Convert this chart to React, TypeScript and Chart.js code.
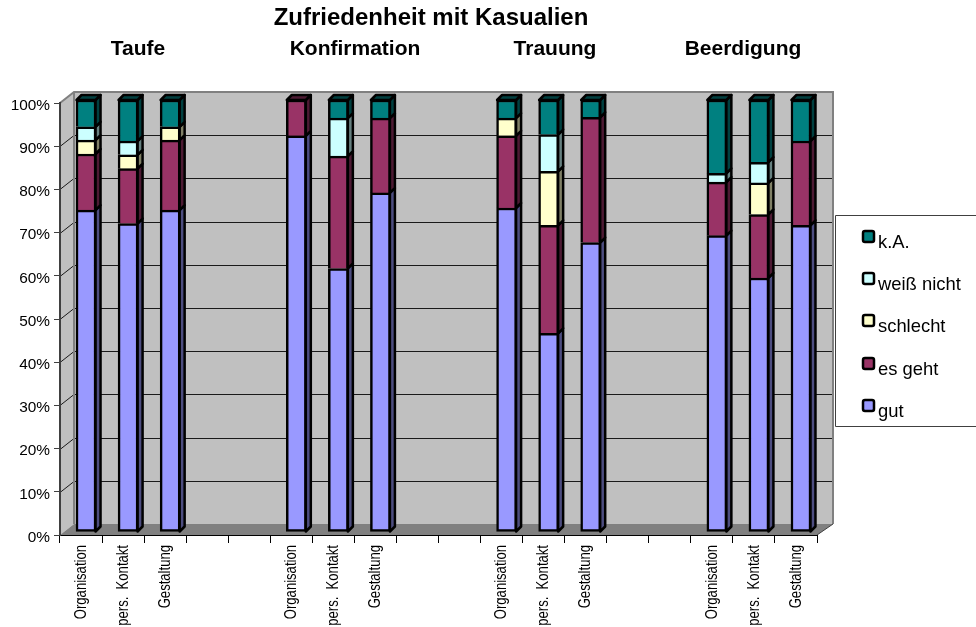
import React, { useEffect, useRef } from "react";
import { Chart, registerables } from "chart.js";

Chart.register(...registerables);

const chartTitle = "Zufriedenheit mit Kasualien";
const groupNames = ["Taufe", "Konfirmation", "Trauung", "Beerdigung"];
const groupCentres = [138, 355, 555, 743];
const categories = [
  "Organisation", "pers.  Kontakt", "Gestaltung", "", "",
  "Organisation", "pers.  Kontakt", "Gestaltung", "", "",
  "Organisation", "pers.  Kontakt", "Gestaltung", "", "",
  "Organisation", "pers.  Kontakt", "Gestaltung",
];
const gut = [74.5, 71.4, 74.5, 0, 0, 91.7, 61, 78.5, 0, 0, 75, 46, 67, 0, 0, 68.6, 58.8, 71];
const esGeht = [13, 12.7, 16.2, 0, 0, 8.3, 26, 17.3, 0, 0, 16.7, 25, 29, 0, 0, 12.4, 14.7, 19.5];
const schlecht = [3.2, 3.2, 3.1, 0, 0, 0, 0, 0, 0, 0, 4.1, 12.5, 0, 0, 0, 0, 7.3, 0];
const weissNicht = [3.1, 3.2, 0, 0, 0, 0, 8.8, 0, 0, 0, 0, 8.5, 0, 0, 0, 2, 4.8, 0];
const kA = [6.2, 9.5, 6.2, 0, 0, 0, 4.2, 4.2, 0, 0, 4.2, 8, 4, 0, 0, 17, 14.4, 9.5];

const seriesNames = ["gut", "es geht", "schlecht", "weiß nicht", "k.A."];
const seriesValues = [gut, esGeht, schlecht, weissNicht, kA];
const seriesColors = ["#9999FF", "#993366", "#FFFFCC", "#CCFFFF", "#008080"];
const sideColors = ["#4D4D80", "#4D1A33", "#808066", "#668080", "#004040"];

const FONT = '"Liberation Sans", Arial, sans-serif';
const WALL_DX = 14;
const WALL_DY = -11;
const BAR_DX = 5;
const BAR_DY = -3;
const BAR_DEPTH = 5;

const walls = {
  id: "walls",
  afterLayout(chart: any) {
    // the tick labels of the value axis need the whole left margin
    chart.scales.y.left = 0;
  },
  beforeDraw(chart: any) {
    const { ctx, chartArea: a, scales } = chart;
    const bl = a.left + WALL_DX;
    const br = a.right + WALL_DX + 2;
    ctx.save();
    ctx.fillStyle = "#C0C0C0";
    ctx.beginPath();
    ctx.moveTo(a.left, a.bottom);
    ctx.lineTo(a.left, a.top);
    ctx.lineTo(bl, a.top + WALL_DY);
    ctx.lineTo(br, a.top + WALL_DY);
    ctx.lineTo(br, a.bottom + WALL_DY);
    ctx.lineTo(bl, a.bottom + WALL_DY);
    ctx.closePath();
    ctx.fill();
    ctx.fillStyle = "#808080";
    ctx.beginPath();
    ctx.moveTo(a.left, a.bottom);
    ctx.lineTo(bl, a.bottom + WALL_DY);
    ctx.lineTo(br, a.bottom + WALL_DY);
    ctx.lineTo(a.right, a.bottom);
    ctx.closePath();
    ctx.fill();
    ctx.strokeStyle = "#1a1a1a";
    ctx.lineWidth = 1;
    for (const t of scales.y.ticks) {
      if (t.value === 0 || t.value === 100) continue;
      const y = Math.round(scales.y.getPixelForValue(t.value)) + 0.5;
      ctx.beginPath();
      ctx.moveTo(a.left, y);
      ctx.lineTo(bl, y + WALL_DY);
      ctx.lineTo(br - 1, y + WALL_DY);
      ctx.stroke();
    }
    ctx.strokeStyle = "#808080";
    ctx.lineWidth = 2;
    ctx.beginPath();
    ctx.moveTo(a.left, a.top);
    ctx.lineTo(bl, a.top + WALL_DY);
    ctx.lineTo(br, a.top + WALL_DY);
    ctx.lineTo(br, a.bottom + WALL_DY);
    ctx.moveTo(bl, a.top + WALL_DY);
    ctx.lineTo(bl, a.bottom + WALL_DY);
    ctx.stroke();
    ctx.strokeStyle = "#404040";
    ctx.lineWidth = 1;
    ctx.beginPath();
    ctx.moveTo(br, a.bottom + WALL_DY);
    ctx.lineTo(a.right, a.bottom);
    ctx.stroke();
    ctx.fillStyle = "#000";
    ctx.font = `bold 21px ${FONT}`;
    ctx.textAlign = "center";
    ctx.textBaseline = "alphabetic";
    groupNames.forEach((n, i) => ctx.fillText(n, groupCentres[i], 55));
    ctx.restore();
  },
};

const bars3d = {
  id: "bars3d",
  beforeDatasetsDraw(chart: any) {
    const { ctx } = chart;
    ctx.save();
    ctx.translate(BAR_DX, BAR_DY);
    ctx.strokeStyle = "#000";
    ctx.lineWidth = 2.5;
    ctx.lineJoin = "round";
    categories.forEach((_, c) => {
      let top: any = null;
      let topSeries = 0;
      seriesValues.forEach((vals, s) => {
        if (!vals[c]) return;
        const el = chart.getDatasetMeta(s).data[c];
        const right = el.x + el.width / 2 - 0.5;
        ctx.fillStyle = sideColors[s];
        ctx.beginPath();
        ctx.moveTo(right, el.base);
        ctx.lineTo(right + BAR_DEPTH, el.base - BAR_DEPTH);
        ctx.lineTo(right + BAR_DEPTH, el.y - BAR_DEPTH);
        ctx.lineTo(right, el.y);
        ctx.closePath();
        ctx.fill();
        ctx.stroke();
        top = el;
        topSeries = s;
      });
      if (top) {
        const l = top.x - top.width / 2 + 0.5;
        const r = top.x + top.width / 2 - 0.5;
        ctx.fillStyle = sideColors[topSeries];
        ctx.beginPath();
        ctx.moveTo(l, top.y);
        ctx.lineTo(l + BAR_DEPTH, top.y - BAR_DEPTH);
        ctx.lineTo(r + BAR_DEPTH, top.y - BAR_DEPTH);
        ctx.lineTo(r, top.y);
        ctx.closePath();
        ctx.fill();
        ctx.stroke();
      }
    });
  },
  afterDatasetsDraw(chart: any) {
    chart.ctx.restore();
  },
};

const squeezedLabels = {
  id: "squeezedLabels",
  afterDraw(chart: any) {
    const { ctx, scales } = chart;
    ctx.save();
    ctx.fillStyle = "#000";
    ctx.font = `17px ${FONT}`;
    ctx.textAlign = "right";
    ctx.textBaseline = "middle";
    categories.forEach((label, i) => {
      if (!label) return;
      ctx.save();
      ctx.translate(scales.x.getPixelForTick(i), 545);
      ctx.rotate(-Math.PI / 2);
      ctx.scale(0.77, 1);
      ctx.fillText(label, 0, 0);
      ctx.restore();
    });
    ctx.restore();
  },
};

const sideLegend = {
  id: "sideLegend",
  afterDraw(chart: any) {
    const { ctx } = chart;
    ctx.save();
    ctx.fillStyle = "#fff";
    ctx.fillRect(836, 215, 140, 211);
    ctx.strokeStyle = "#404040";
    ctx.lineWidth = 1;
    ctx.beginPath();
    ctx.moveTo(977, 215.5);
    ctx.lineTo(835.5, 215.5);
    ctx.lineTo(835.5, 426.5);
    ctx.lineTo(977, 426.5);
    ctx.stroke();
    ctx.font = `18.4px ${FONT}`;
    ctx.textAlign = "left";
    ctx.textBaseline = "alphabetic";
    const tops = [399, 357, 314, 272, 230];
    seriesNames.forEach((n, s) => {
      const y = tops[s];
      ctx.fillStyle = seriesColors[s];
      ctx.strokeStyle = "#000";
      ctx.lineWidth = 2.5;
      ctx.beginPath();
      ctx.roundRect(863, y + 1, 11, 11, 2);
      ctx.fill();
      ctx.stroke();
      ctx.fillStyle = "#000";
      ctx.fillText(n, 878, y + 18);
    });
    ctx.restore();
  },
};

export default function App() {
  const ref = useRef<HTMLCanvasElement | null>(null);
  useEffect(() => {
    const chart = new Chart(ref.current as HTMLCanvasElement, {
      type: "bar",
      data: {
        labels: categories,
        datasets: seriesNames.map((label, s) => ({
          label,
          data: seriesValues[s],
          backgroundColor: seriesColors[s],
          borderColor: "#000",
          borderWidth: 2.5,
          borderSkipped: s === 0 ? false : "bottom",
          barThickness: 20,
          clip: false,
        })),
      } as any,
      options: {
        responsive: false,
        animation: false,
        layout: { padding: { left: 45, right: 159, top: 0, bottom: 0 } },
        plugins: {
          legend: { display: false },
          tooltip: { enabled: false },
          title: {
            display: true,
            text: chartTitle,
            color: "#000",
            font: { family: FONT, size: 24, weight: "bold", lineHeight: 1.2 },
            padding: { top: 4, bottom: 70.2 },
          },
        },
        scales: {
          x: {
            stacked: true,
            afterFit: (s: any) => { s.height = 92; },
            border: { color: "#000", width: 1 },
            grid: { drawOnChartArea: false, drawTicks: true, tickLength: 8, color: "#000" },
            ticks: { display: false, autoSkip: false },
          },
          y: {
            stacked: true,
            min: 0,
            max: 100,
            afterFit: (s: any) => { s.width = 15; },
            border: { color: "#404040", width: 2 },
            grid: { drawOnChartArea: false, drawTicks: true, tickLength: 6, color: "#404040" },
            ticks: {
              stepSize: 10,
              padding: 4,
              labelOffset: 2.5,
              color: "#000",
              font: { family: FONT, size: 15.4 },
              callback: (v: any) => `${v}%`,
            },
          },
        },
      } as any,
      plugins: [walls, bars3d, squeezedLabels, sideLegend],
    });
    return () => chart.destroy();
  }, []);
  return (
    <canvas
      ref={ref}
      width={976}
      height={627}
      style={{ position: "absolute", left: 0, top: 0, display: "block" }}
    />
  );
}
